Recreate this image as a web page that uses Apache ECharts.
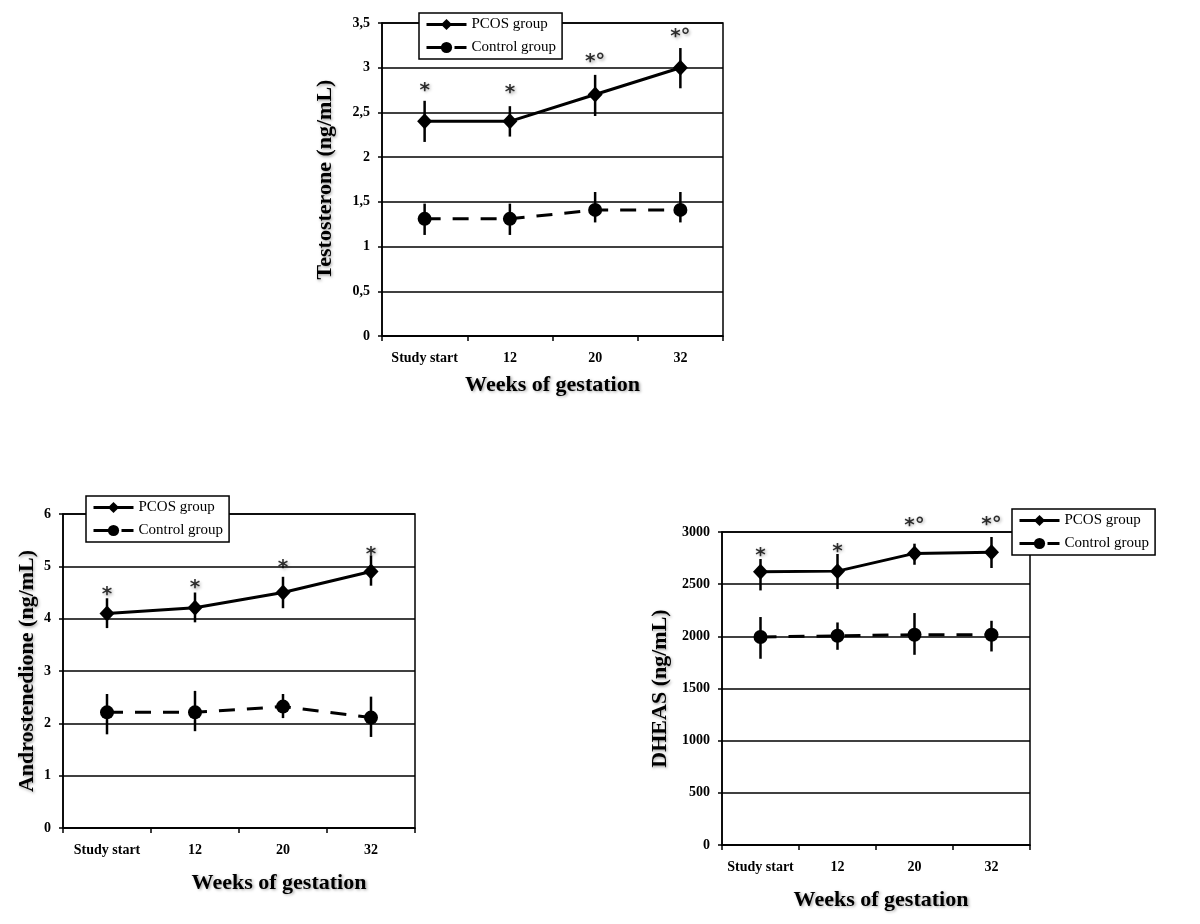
<!DOCTYPE html>
<html>
<head>
<meta charset="utf-8">
<script src="https://cdn.jsdelivr.net/npm/echarts@6/dist/echarts.min.js"></script>
<style>html,body{margin:0;padding:0;background:#fff}#c{width:1200px;height:924px}</style>
</head>
<body>
<div id="c"></div>
<script>
// ---------- data ----------
const categories = ['Study start', '12', '20', '32'];

const testoPCOS      = [2.40, 2.40, 2.70, 3.00];
const testoPCOSLow   = [2.17, 2.23, 2.46, 2.77];
const testoPCOSHigh  = [2.63, 2.57, 2.92, 3.22];
const testoCtrl      = [1.31, 1.31, 1.41, 1.41];
const testoCtrlLow   = [1.13, 1.13, 1.27, 1.27];
const testoCtrlHigh  = [1.48, 1.48, 1.61, 1.61];
const testoMarks     = ['*', '*', '*°', '*°'];
const testoMarkY     = [2.80, 2.77, 3.12, 3.40];

const androPCOS      = [4.10, 4.21, 4.50, 4.90];
const androPCOSLow   = [3.82, 3.93, 4.20, 4.63];
const androPCOSHigh  = [4.39, 4.50, 4.80, 5.21];
const androCtrl      = [2.21, 2.21, 2.32, 2.11];
const androCtrlLow   = [1.79, 1.85, 2.10, 1.74];
const androCtrlHigh  = [2.56, 2.62, 2.56, 2.51];
const androMarks     = ['*', '*', '*', '*'];
const androMarkY     = [4.55, 4.68, 5.06, 5.32];

const dheasPCOS      = [2620, 2625, 2795, 2805];
const dheasPCOSLow   = [2440, 2453, 2686, 2655];
const dheasPCOSHigh  = [2741, 2789, 2888, 2952];
const dheasCtrl      = [1993, 2005, 2015, 2015];
const dheasCtrlLow   = [1785, 1871, 1823, 1855];
const dheasCtrlHigh  = [2185, 2133, 2223, 2149];
const dheasMarks     = ['*', '*', '*°', '*°'];
const dheasMarkY     = [2824, 2862, 3111, 3118];

const seriesNames = ['PCOS group', 'Control group'];
const xAxisTitle = 'Weeks of gestation';
const yAxisTitles = ['Testosterone (ng/mL)', 'Androstenedione (ng/mL)', 'DHEAS (ng/mL)'];

// ---------- styling helpers ----------
const FONT = "'Liberation Serif', 'DejaVu Serif', serif";
const shadow = { textShadowColor: 'rgba(0,0,0,0.35)', textShadowBlur: 3, textShadowOffsetX: 1.5, textShadowOffsetY: 1.5 };

function makeX(gridIndex, nameGap, namePad) {
  return {
    type: 'category', gridIndex, data: categories, boundaryGap: true,
    name: xAxisTitle, nameLocation: 'middle', nameGap,
    nameTextStyle: Object.assign({ fontFamily: FONT, fontWeight: 'bold', fontSize: 22, color: '#000', padding: namePad }, shadow),
    axisLine: { lineStyle: { color: '#000', width: 1.5 } },
    axisTick: { show: true, alignWithLabel: false, length: 5, lineStyle: { color: '#000', width: 1.5 } },
    axisLabel: { interval: 0, fontFamily: FONT, fontWeight: 'bold', fontSize: 14, color: '#000', margin: 15 },
    splitLine: { show: false }
  };
}
function makeY(gridIndex, name, max, interval, nameGap) {
  return {
    type: 'value', gridIndex, min: 0, max, interval,
    name, nameLocation: 'middle', nameGap,
    nameTextStyle: Object.assign({ fontFamily: FONT, fontWeight: 'bold', fontSize: 22, color: '#000' }, shadow),
    axisLine: { show: true, lineStyle: { color: '#000', width: 1.5 } },
    axisTick: { show: true, length: 4, lineStyle: { color: '#000', width: 1.5 } },
    axisLabel: { fontFamily: FONT, fontWeight: 'bold', fontSize: 14, color: '#000', margin: 12,
      formatter: v => String(v).replace('.', ',') },
    splitLine: { show: true, lineStyle: { color: '#000', width: 1.5 } }
  };
}
function errSeries(idx, low, high) {
  return {
    type: 'custom', xAxisIndex: idx, yAxisIndex: idx, z: 3, silent: true,
    data: low.map((l, i) => [i, l, high[i]]),
    encode: { x: 0, y: [1, 2] },
    renderItem: function (params, api) {
      const x = api.value(0);
      const p1 = api.coord([x, api.value(1)]);
      const p2 = api.coord([x, api.value(2)]);
      return { type: 'line', shape: { x1: p1[0], y1: p1[1], x2: p2[0], y2: p2[1] },
        style: { stroke: '#000', lineWidth: 2.5 } };
    }
  };
}
function lineSeries(idx, name, data, dashed) {
  return {
    type: 'line', name, xAxisIndex: idx, yAxisIndex: idx, data, z: 4,
    symbol: dashed ? 'circle' : 'diamond', symbolSize: dashed ? 14 : [15, 16], showSymbol: true,
    itemStyle: { color: '#000', borderWidth: 0 },
    lineStyle: { color: '#000', width: 3, type: dashed ? [16, 12] : 'solid' },
    emphasis: { disabled: true }
  };
}
function markSeries(idx, marks, ys) {
  return {
    type: 'scatter', xAxisIndex: idx, yAxisIndex: idx, symbolSize: 1, clip: false, silent: true,
    itemStyle: { color: 'rgba(0,0,0,0)' },
    data: marks.map((m, i) => ({ value: [i, ys[i]], name: m })),
    label: Object.assign({ show: true, position: 'inside', formatter: p => p.name,
      fontFamily: "'DejaVu Sans', sans-serif", fontWeight: 'bold', fontSize: 20, color: '#000', offset: [0, 5] }, shadow)
  };
}
function makeLegend(left, top) {
  return {
    data: seriesNames, orient: 'vertical', left, top,
    itemWidth: 40, itemHeight: 14, itemGap: 8, itemTextGap: 4,
    padding: [4, 6, 4, 6],
    borderColor: '#000', borderWidth: 1.5, backgroundColor: '#fff',
    lineStyle: { width: 3 },
    textStyle: { fontFamily: FONT, fontSize: 15, color: '#000' },
    selectedMode: false, z: 10
  };
}

const option = {
  animation: false,
  backgroundColor: '#fff',
  grid: [
    { left: 382, right: 477, top: 23, bottom: 588, show: true, borderColor: '#000', borderWidth: 1.5, backgroundColor: 'transparent' },
    { left: 63, right: 785, top: 514, bottom: 96, show: true, borderColor: '#000', borderWidth: 1.5, backgroundColor: 'transparent' },
    { left: 722, right: 170, top: 532, bottom: 79, show: true, borderColor: '#000', borderWidth: 1.5, backgroundColor: 'transparent' }
  ],
  xAxis: [makeX(0, 38, [0, 0, 0, 0]), makeX(1, 44, [0, 0, 0, 80]), makeX(2, 44, [0, 0, 0, 10])],
  yAxis: [makeY(0, yAxisTitles[0], 3.5, 0.5, 46), makeY(1, yAxisTitles[1], 6, 1, 25), makeY(2, yAxisTitles[2], 3000, 500, 51)],
  legend: [makeLegend(419, 13), makeLegend(86, 496), makeLegend(1012, 509)],
  series: [
    errSeries(0, testoPCOSLow, testoPCOSHigh), errSeries(0, testoCtrlLow, testoCtrlHigh),
    lineSeries(0, seriesNames[0], testoPCOS, false), lineSeries(0, seriesNames[1], testoCtrl, true),
    markSeries(0, testoMarks, testoMarkY),

    errSeries(1, androPCOSLow, androPCOSHigh), errSeries(1, androCtrlLow, androCtrlHigh),
    lineSeries(1, seriesNames[0], androPCOS, false), lineSeries(1, seriesNames[1], androCtrl, true),
    markSeries(1, androMarks, androMarkY),

    errSeries(2, dheasPCOSLow, dheasPCOSHigh), errSeries(2, dheasCtrlLow, dheasCtrlHigh),
    lineSeries(2, seriesNames[0], dheasPCOS, false), lineSeries(2, seriesNames[1], dheasCtrl, true),
    markSeries(2, dheasMarks, dheasMarkY)
  ]
};
const chart = echarts.init(document.getElementById('c'), null, { renderer: 'canvas' });
chart.setOption(option);
</script>
</body>
</html>
